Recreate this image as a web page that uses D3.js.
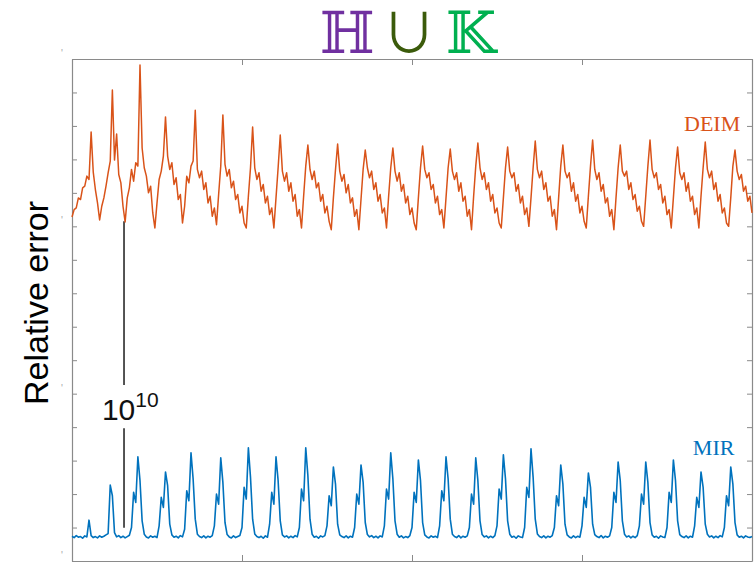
<!DOCTYPE html>
<html><head><meta charset="utf-8">
<script src="https://cdn.jsdelivr.net/npm/d3@7"></script>
<style>body{margin:0;background:#fff}</style>
</head><body>
<svg id="c" width="755" height="562"></svg>
<script>
// ---- data ----
const xTickValues = [0, 1, 2, 3, 4];
const yTickValues = [0,1,2,3,4,5,6,7,8,9,10,11,12,13,14,15];
const yMajorValues = [0, 5, 10, 15];
const titleGlyphs = ["ℍ", "∪", "𝕂"];
const yLabel = "Relative error";
const seriesNames = ["DEIM", "MIR"];
const gapAnnotation = {x: 0.306, top: 10.15, bottom: 0.99, labelBase: "10", labelExp: "10"};

const deim = [
 10.28,10.50,10.55,10.85,10.80,11.15,11.20,11.50,11.40,
 12.82,
 11.62,11.10,10.70,10.19,10.60,10.85,11.20,11.60,11.95,
 14.07,
 11.98,12.76,11.55,11.30,10.60,10.13,10.85,11.15,11.70,11.35,11.90,11.80,
 14.82,
 12.34,11.75,11.50,11.00,11.20,10.40,9.95,10.70,11.40,11.65,12.10,
 13.27,
 12.10,11.70,11.90,11.25,11.45,10.80,10.95,10.10,10.60,11.50,11.30,11.80,11.95,
 13.47,
 11.70,11.45,11.65,11.10,11.30,10.70,10.90,10.30,10.55,10.05,10.95,11.80,
 13.33,
 11.85,11.50,11.70,11.15,11.35,10.80,10.95,10.40,10.60,10.10,9.95,10.90,11.75,
 12.97,
 11.75,11.40,11.60,11.05,11.25,10.70,10.90,10.35,10.55,9.95,10.85,11.75,
 12.73,
 11.65,11.35,11.60,11.05,11.30,10.75,10.95,10.30,10.50,9.95,10.90,11.80,
 12.43,
 11.70,11.40,11.65,11.15,11.30,10.75,10.95,10.40,10.60,10.15,9.90,10.85,11.70,
 12.46,
 11.65,11.35,11.55,11.00,11.25,10.70,10.85,10.30,10.50,9.90,10.80,11.70,
 12.28,
 11.75,11.45,11.65,11.10,11.30,10.75,10.95,10.40,10.55,9.95,10.90,11.75,
 12.34,
 11.65,11.35,11.60,11.05,11.25,10.70,10.90,10.35,10.55,10.10,9.90,10.85,11.75,
 12.40,
 11.70,11.45,11.60,11.10,11.25,10.70,10.90,10.35,10.50,9.95,10.85,11.75,
 12.31,
 11.65,11.40,11.60,11.05,11.30,10.75,10.90,10.30,10.50,9.90,10.90,11.80,
 12.49,
 11.75,11.40,11.60,11.10,11.30,10.75,10.95,10.40,10.55,10.10,9.95,10.85,11.75,
 12.37,
 11.65,11.45,11.60,11.05,11.25,10.70,10.90,10.35,10.55,10.00,10.85,11.75,
 12.55,
 11.70,11.45,11.65,11.10,11.30,10.75,10.90,10.30,10.50,9.90,10.85,11.80,
 12.43,
 11.65,11.45,11.60,11.05,11.30,10.75,10.95,10.40,10.60,10.15,9.95,10.90,11.80,
 12.58,
 11.70,11.40,11.60,11.05,11.25,10.70,10.85,10.30,10.50,9.90,10.85,11.75,
 12.43,
 11.65,11.50,11.65,11.10,11.30,10.80,10.95,10.45,10.60,10.15,10.00,10.90,11.80,
 12.58,
 11.70,11.45,11.60,11.10,11.25,10.70,10.90,10.35,10.50,9.95,10.85,11.75,
 12.37,
 11.60,11.40,11.60,11.05,11.30,10.75,10.90,10.35,10.55,9.95,10.90,11.75,
 12.52,
 11.70,11.45,11.65,11.10,11.30,10.75,10.95,10.40,10.55,10.10,10.00,10.85,11.80,
 12.28,
 11.65,11.40,11.55,11.05,11.20,10.75,10.90,10.40
];

const mir = [
 0.74,0.70,0.76,0.71,0.73,0.68,0.75,0.72,
 1.22,
 0.76,0.70,0.73,0.69,0.75,0.71,0.74,0.78,
 0.82,2.27,1.95,0.85,
 0.72,0.76,0.70,0.74,0.69,0.73,0.77,
 1.00,2.05,1.75,3.11,2.40,1.20,0.80,
 0.72,0.69,0.75,0.71,0.74,0.70,
 1.05,1.90,1.60,2.66,2.25,1.10,0.78,
 0.71,0.74,0.69,0.76,0.72,
 0.95,2.10,1.80,3.23,2.45,1.25,0.80,
 0.73,0.70,0.75,0.69,0.74,0.71,0.76,
 1.05,2.00,1.70,3.08,2.35,1.15,0.79,
 0.72,0.69,0.75,0.70,0.73,0.76,
 1.00,2.20,1.85,3.38,2.50,1.25,0.81,
 0.73,0.70,0.74,0.68,0.75,0.71,
 1.10,2.05,1.70,3.11,2.40,1.20,0.78,
 0.72,0.75,0.69,0.74,0.70,0.76,0.72,
 1.00,2.15,1.80,3.38,2.55,1.25,0.80,
 0.71,0.74,0.68,0.75,0.72,0.76,
 1.05,1.95,1.65,2.81,2.30,1.10,0.78,
 0.73,0.70,0.75,0.69,0.74,0.71,
 1.00,2.00,1.70,2.87,2.35,1.15,0.79,
 0.72,0.76,0.70,0.74,0.69,0.75,0.72,
 1.05,2.15,1.85,3.23,2.45,1.20,0.80,
 0.71,0.75,0.69,0.73,0.70,0.76,
 1.00,2.05,1.75,3.02,2.40,1.15,0.78,
 0.72,0.69,0.75,0.71,0.74,0.70,
 1.05,2.10,1.80,3.11,2.45,1.25,0.80,
 0.73,0.70,0.76,0.69,0.74,0.71,0.75,
 1.00,2.00,1.70,3.08,2.40,1.20,0.79,
 0.72,0.75,0.69,0.74,0.70,0.76,
 1.05,2.15,1.85,3.17,2.45,1.20,0.80,
 0.71,0.74,0.68,0.75,0.72,0.70,
 1.00,2.20,1.90,3.35,2.50,1.25,0.81,
 0.73,0.70,0.75,0.69,0.74,0.71,0.76,
 1.00,1.95,1.65,2.87,2.30,1.10,0.78,
 0.72,0.69,0.75,0.70,0.74,0.71,
 1.05,1.90,1.60,2.63,2.20,1.10,0.79,
 0.73,0.70,0.76,0.69,0.74,0.71,0.75,
 1.00,2.05,1.75,2.96,2.40,1.20,0.80,
 0.72,0.75,0.69,0.74,0.70,0.76,
 1.05,2.00,1.70,2.96,2.35,1.15,0.78,
 0.71,0.74,0.68,0.75,0.72,0.70,
 1.00,2.05,1.75,3.02,2.40,1.20,0.79,
 0.73,0.70,0.75,0.69,0.74,0.71,
 1.05,1.90,1.60,2.66,2.20,1.10,0.80,
 0.72,0.75,0.69,0.74,0.70,0.76,0.72,
 1.00,1.95,1.65,2.81,2.30,1.15,0.78,
 0.71,0.74,0.69,0.75,0.72,0.70,0.73
];

// ---- drawing ----
const plot = {left: 72, right: 752, top: 59, bottom: 561};
const colors = {deim: "#D95319", mir: "#0072BD", axis: "#8a8a8a"};
const titleColors = ["#7030A0", "#3B5B0B", "#00B050"];
const titleSizes = [58, 54, 58];
const titleFonts = ["DejaVu Serif, serif", "Noto Sans CJK JP, DejaVu Sans, sans-serif", "DejaVu Serif, serif"];
const titleX = [347, 409, 471];

const svg = d3.select("#c");
const x = d3.scaleLinear().domain([0, 4]).range([plot.left, plot.right]);
const y = d3.scaleLinear().domain([0, 15]).range([plot.bottom, plot.top]);

function styleAxis(g) {
  g.select(".domain").attr("stroke", colors.axis).attr("stroke-width", 1.2);
  g.selectAll(".tick line").attr("stroke", colors.axis).attr("stroke-width", 1);
}

svg.append("g").attr("transform", `translate(${plot.left},0)`)
  .call(d3.axisLeft(y).tickValues(yTickValues).tickSize(-5).tickSizeOuter(0).tickFormat(""))
  .call(styleAxis);
svg.append("g").attr("transform", `translate(${plot.right},0)`)
  .call(d3.axisRight(y).tickValues(yTickValues).tickSize(-5).tickSizeOuter(0).tickFormat(""))
  .call(styleAxis);
svg.append("g").attr("transform", `translate(0,${plot.top})`)
  .call(d3.axisTop(x).tickValues(xTickValues).tickSize(-6).tickSizeOuter(0).tickFormat(""))
  .call(styleAxis);
svg.append("g").attr("transform", `translate(0,${plot.bottom})`)
  .call(d3.axisBottom(x).tickValues(xTickValues).tickSize(-6).tickSizeOuter(0).tickFormat(""))
  .call(styleAxis);

// clipped tick-label fragments on left
svg.append("g").selectAll("text").data(yMajorValues).join("text")
  .attr("x", plot.left - 10).attr("y", d => y(d) - 2)
  .attr("font-family", "Liberation Sans, Arial, sans-serif").attr("font-size", 10)
  .attr("fill", "#a8a8a8").attr("text-anchor", "middle").text("'");

// annotation line (drawn under the series)
const gx = x(gapAnnotation.x);
svg.append("line").attr("x1", gx).attr("x2", gx)
  .attr("y1", y(gapAnnotation.top)).attr("y2", y(5.26))
  .attr("stroke", "#2a2a2a").attr("stroke-width", 1.6);
svg.append("line").attr("x1", gx).attr("x2", gx)
  .attr("y1", y(3.97)).attr("y2", y(gapAnnotation.bottom))
  .attr("stroke", "#2a2a2a").attr("stroke-width", 1.6);
const lbl = svg.append("text").attr("x", x(0.176)).attr("y", y(4.21))
  .attr("font-family", "Liberation Sans, Arial, sans-serif").attr("font-size", 30).attr("fill", "#111");
lbl.append("tspan").text(gapAnnotation.labelBase);
lbl.append("tspan").attr("dy", -13).attr("font-size", 21).text(gapAnnotation.labelExp);

// series
const line = d3.line().x((d, i, arr) => x(i * 4 / (arr.length - 1))).y(d => y(d));
svg.append("path").datum(deim).attr("d", line).attr("fill", "none")
  .attr("stroke", colors.deim).attr("stroke-width", 1.5).attr("stroke-linejoin", "round");
svg.append("path").datum(mir).attr("d", line).attr("fill", "none")
  .attr("stroke", colors.mir).attr("stroke-width", 1.6).attr("stroke-linejoin", "round");

// series labels
svg.append("text").attr("x", x(3.6)).attr("y", y(12.85))
  .attr("font-family", "Liberation Serif, Times New Roman, serif").attr("font-size", 22)
  .attr("fill", colors.deim).text(seriesNames[0]);
svg.append("text").attr("x", x(3.652)).attr("y", y(3.17))
  .attr("font-family", "Liberation Serif, Times New Roman, serif").attr("font-size", 22)
  .attr("fill", colors.mir).text(seriesNames[1]);

// y label
svg.append("text").attr("transform", `translate(48,303) rotate(-90)`)
  .attr("text-anchor", "middle").attr("font-family", "Liberation Sans, Arial, sans-serif")
  .attr("font-size", 34).attr("fill", "#000").text(yLabel);

// title
svg.append("g").selectAll("text").data(titleGlyphs).join("text")
  .attr("x", (d, i) => titleX[i]).attr("y", 53)
  .attr("text-anchor", "middle").attr("font-family", (d, i) => titleFonts[i])
  .attr("font-size", (d, i) => titleSizes[i]).attr("fill", (d, i) => titleColors[i]).text(d => d);
</script>
</body></html>
